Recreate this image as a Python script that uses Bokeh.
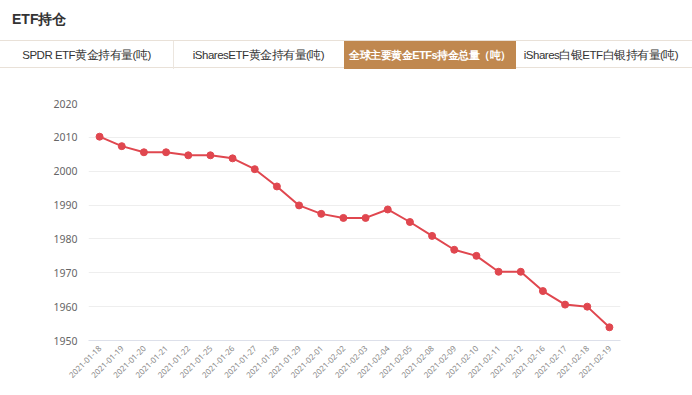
from bokeh.plotting import figure
from bokeh.models import Div, FactorRange, FixedTicker, ColumnDataSource
from bokeh.layouts import column
from bokeh.embed import file_html
from bokeh.resources import INLINE
import math

title_text = "ETF持仓"
tabs = ["SPDR ETF黄金持有量(吨)", "iSharesETF黄金持有量(吨)", "全球主要黄金ETFs持金总量（吨）", "iShares白银ETF白银持有量(吨)"]
dates = ["2021-01-18", "2021-01-19", "2021-01-20", "2021-01-21", "2021-01-22",
         "2021-01-25", "2021-01-26", "2021-01-27", "2021-01-28", "2021-01-29",
         "2021-02-01", "2021-02-02", "2021-02-03", "2021-02-04", "2021-02-05",
         "2021-02-08", "2021-02-09", "2021-02-10", "2021-02-11", "2021-02-12",
         "2021-02-16", "2021-02-17", "2021-02-18", "2021-02-19"]
holdings = [2010.2, 2007.4, 2005.6, 2005.6, 2004.7, 2004.7, 2003.8, 2000.6, 1995.5, 1989.9,
            1987.4, 1986.2, 1986.2, 1988.7, 1985.0, 1980.9, 1976.8, 1975.0, 1970.3, 1970.3,
            1964.6, 1960.6, 1960.0, 1953.9]
y_ticks = [1950, 1960, 1970, 1980, 1990, 2000, 2010, 2020]

font_cjk = "'Noto Sans CJK SC', 'Noto Sans', sans-serif"

# header (title + tabs) as HTML
tab_specs = [(0, 173, False), (173, 171, False), (344, 172, True), (516, 170, False)]
tab_html = ""
for (left, w, active), t in zip(tab_specs, tabs):
    if active:
        sty = "background:#c0884f;color:#ffffff;font-weight:bold;font-size:11px;letter-spacing:-0.5px;"
    else:
        sty = "color:#333333;font-size:11.5px;letter-spacing:-0.5px;"
    tab_html += (f"<div style='position:absolute;left:{left}px;top:0;width:{w}px;height:28px;"
                 f"line-height:28px;text-align:center;white-space:nowrap;{sty}'>{t}</div>")
tab_html += "<div style='position:absolute;left:173px;top:0;width:1px;height:28px;background:#ece6df;'></div>"

header_html = (
    f"<div style='position:relative;width:692px;height:70px;font-family:{font_cjk};'>"
    f"<div style='position:absolute;left:12px;top:9px;font-size:14px;font-weight:bold;color:#333333;'>{title_text}</div>"
    f"<div style='position:absolute;left:0;top:40px;width:692px;height:28px;"
    f"border-top:1px solid #e9e1d8;border-bottom:1px solid #e9e1d8;'>{tab_html}</div>"
    f"</div>"
)
header = Div(text=header_html, width=692, height=70, margin=(0, 0, 0, 0))

src = ColumnDataSource(data=dict(x=dates, y=holdings))

p = figure(width=688, height=320, x_range=FactorRange(factors=dates, range_padding=0),
           y_range=(1950, 2020), output_backend="svg", toolbar_location=None,
           min_border_left=88, min_border_right=68, min_border_top=33, min_border_bottom=50,
           margin=(0, 0, 0, 0))
p.outline_line_color = None
p.background_fill_color = "#ffffff"
p.border_fill_color = "#ffffff"

p.line("x", "y", source=src, line_color="#e0474f", line_width=2)
p.scatter("x", "y", source=src, size=7, fill_color="#e0474f", line_color="#e0474f")

p.xgrid.grid_line_color = None
p.ygrid.grid_line_color = "#eeeeee"
p.ygrid.grid_line_width = 1
p.yaxis.ticker = FixedTicker(ticks=y_ticks)
p.yaxis.axis_line_color = None
p.yaxis.major_tick_line_color = None
p.yaxis.minor_tick_line_color = None
p.yaxis.major_tick_out = 0
p.yaxis.major_label_standoff = 11
p.yaxis.major_label_text_font = "Noto Sans"
p.yaxis.major_label_text_font_size = "10.5px"
p.yaxis.major_label_text_color = "#666666"

p.xaxis.axis_line_color = "#dde0ea"
p.xaxis.axis_line_width = 1
p.xaxis.major_tick_line_color = None
p.xaxis.minor_tick_line_color = None
p.xaxis.major_tick_out = 0
p.xaxis.major_label_orientation = math.pi / 4
p.xaxis.major_label_standoff = 6
p.xaxis.major_label_text_font = "Noto Sans"
p.xaxis.major_label_text_font_size = "8px"
p.xaxis.major_label_text_color = "#888888"

layout = column(header, p, spacing=0)
open("out.html", "w").write(file_html(layout, INLINE))
